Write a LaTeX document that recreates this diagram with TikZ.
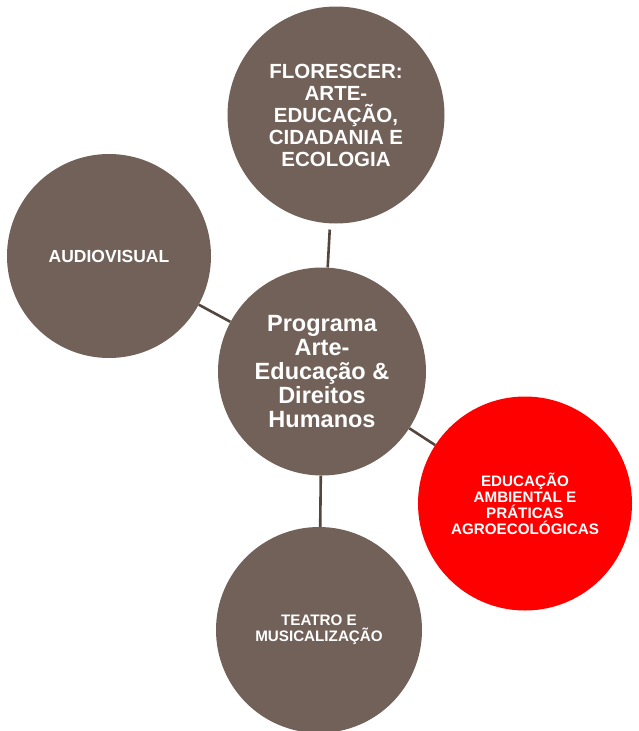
\documentclass[tikz,border=0pt]{standalone}
\usepackage{fontspec}
\setmainfont{Liberation Sans}
\definecolor{bubble}{RGB}{114,97,88}
\definecolor{linkcol}{RGB}{84,70,62}
\definecolor{hot}{RGB}{255,0,0}
\tikzset{
  bub/.style={circle,fill=bubble,inner sep=0pt,text=white,align=center,font=\bfseries},
  hotbub/.style={bub,fill=hot},
  link/.style={draw=linkcol,line width=2.6pt}
}
\begin{document}
\begin{tikzpicture}[x=1pt,y=-1pt]
\useasboundingbox[fill=white] (0,0) rectangle (638,731);
\node[bub,minimum size=217pt,font=\bfseries\fontsize{20.5}{22}\selectfont] (top) at (336,115)
  {FLORESCER:\\ARTE-\\EDUCAÇÃO,\\CIDADANIA E\\ECOLOGIA};
\node[bub,minimum size=204pt,font=\bfseries\fontsize{17.5}{20}\selectfont] (left) at (109,256) {AUDIOVISUAL};
\node[bub,minimum size=208pt,font=\bfseries\fontsize{23.5}{24}\selectfont] (center) at (322,371.5)
  {Programa\\Arte-\\Educação \&\\Direitos\\Humanos};
\node[hotbub,minimum size=214pt,font=\bfseries\fontsize{15.2}{16}\selectfont] (right) at (525,503.5)
  {EDUCAÇÃO\\AMBIENTAL E\\PRÁTICAS\\AGROECOLÓGICAS};
\node[bub,minimum size=206pt,font=\bfseries\fontsize{15.2}{15.5}\selectfont] (bottom) at (319,630)
  {TEATRO E\\MUSICALIZAÇÃO};
\draw[link,shorten <=6pt] (top) -- (center);
\draw[link] (left) -- (center);
\draw[link] (center) -- (right);
\draw[link] (center) -- (bottom);
\end{tikzpicture}
\end{document}
